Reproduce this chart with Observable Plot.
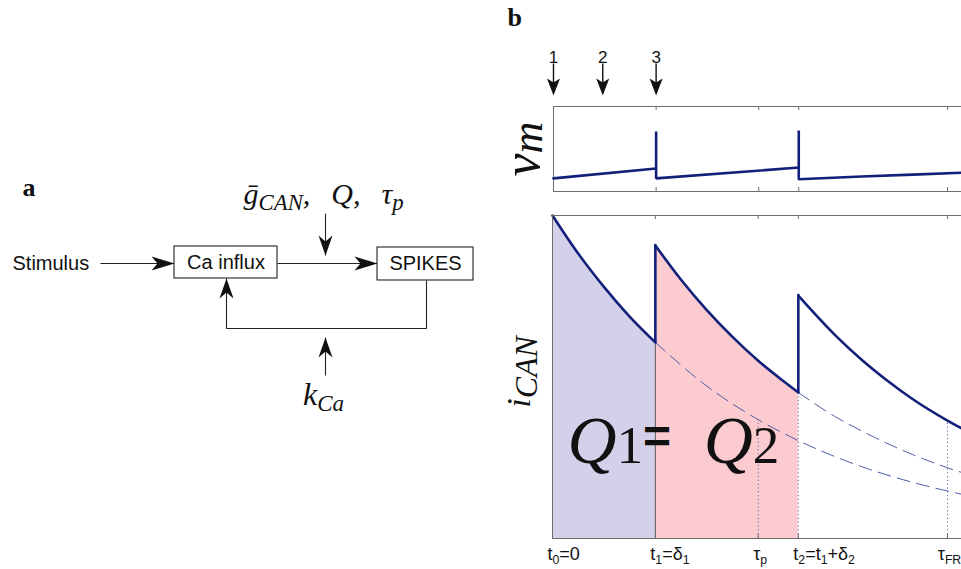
<!DOCTYPE html>
<html><head><meta charset="utf-8">
<script src="https://cdn.jsdelivr.net/npm/d3@7"></script>
<script src="https://cdn.jsdelivr.net/npm/@observablehq/plot@0.6"></script>
<style>
html,body{margin:0;padding:0;background:#fff;overflow:hidden;width:961px;height:569px;}
#fig{position:relative;width:961px;height:569px;overflow:hidden;background:#fff;}
#fig > div{position:absolute;}
#fig svg{max-width:none !important;display:block;}
#pa{left:0;top:170px;width:490px;height:250px;} #pvm{left:500px;top:0;width:484px;height:200px;} #pi{left:500px;top:200px;width:484px;height:369px;}
</style></head><body>
<div id="fig"><div id="pa"></div><div id="pvm"></div><div id="pi"></div></div>
<script>
// ================= DATA =================
// time axis (units: t1 = 1)
const tickTimes = [1, 2, 2.39, 3.84];
const tickLabelTimes = [0, 1, 2, 2.39, 3.84];
const tickLabels = ["t_{0}=0", "t_{1}=δ_{1}", "τ_{p}", "t_{2}=t_{1}+δ_{2}", "τ_{FR}"];
// stimulus pulses shown above the vm trace
const stimulusNumbers = ["1", "2", "3"];
const stimulusTimes = [0, 0.48, 1];
// membrane potential trace (arbitrary units)
const vmTimes  = [0, 1, 1, 1, 2.39, 2.39, 2.39, 3.0, 3.5, 4.0, 4.2];
const vmValues = [0, 0.21, 1.0, 0.0, 0.23, 1.02, -0.02, 0.04, 0.08, 0.12, 0.13];
// i_CAN trace, three decay segments (arbitrary units)
const seg1Times = [0, 0.25, 0.5, 0.75, 1];
const seg1Values = [1.000, 0.882, 0.779, 0.687, 0.607];
const seg2Times = [1, 1.25, 1.5, 1.75, 2, 2.25, 2.39];
const seg2Values = [0.907, 0.801, 0.707, 0.624, 0.550, 0.486, 0.452];
const seg3Times = [2.39, 2.75, 3, 3.25, 3.5, 3.84, 4.2];
const seg3Values = [0.752, 0.629, 0.555, 0.490, 0.432, 0.365, 0.304];
// dashed continuations of the decays
const dashATimes = [1, 1.5, 2, 2.39, 2.75, 3, 3.5, 3.84, 4.2];
const dashAValues = [0.607, 0.472, 0.368, 0.303, 0.253, 0.223, 0.174, 0.147, 0.122];
const dashBTimes = [2.39, 2.75, 3, 3.5, 3.84, 4.2];
const dashBValues = [0.452, 0.377, 0.334, 0.260, 0.219, 0.183];
// vertical markers
const solidMarkTimes = [1];
const solidMarkValues = [0.607];
const dottedMarkTimes = [2, 2.39, 3.84];
const dottedMarkValues = [0.368, 0.452, 0.365];
// Q annotation
const qTexts = ["Q_{1}", "=", "Q_{2}"];
const qTimes = [0.146, 0.88, 1.47];
const qLevel = 0.235;
// block diagram (panel a), diagram units
const boxNames = ["Ca influx", "SPIKES"];
const boxX1 = [174, 377], boxX2 = [277, 473], boxY1 = [76, 77], boxY2 = [108, 110];
const shaftX1 = [100, 277, 325, 325], shaftY1 = [93, 93, 43, 205];
const shaftX2 = [174, 377, 325, 325], shaftY2 = [93, 93, 85, 167];
const headX = [174, 377, 325, 226, 325], headY = [93, 93, 85, 108, 167];
const headDir = ["right", "right", "down", "up", "up"];
const loopX = [426, 426, 226, 226], loopY = [110, 158, 158, 108];

// ================= helpers =================
const zip = (ts, vs, k) => ts.map((t, i) => ({t, v: vs[i], k}));
const seg1 = zip(seg1Times, seg1Values, 1), seg2 = zip(seg2Times, seg2Values, 2), seg3 = zip(seg3Times, seg3Values, 3);
const mainLine = [...seg1, ...seg2, ...seg3];
const jumps = [{t: seg2Times[0], lo: seg1Values[seg1Values.length - 1], hi: seg2Values[0]},
               {t: seg3Times[0], lo: seg2Values[seg2Values.length - 1], hi: seg3Values[0]}];
const NS = "http://www.w3.org/2000/svg";
function rich(svg, label, base, {scale = 0.7, shift = 0.22, subStyle = null} = {}) {
  const found = [];
  svg.querySelectorAll(`[aria-description="${label}"], [aria-label="${label}"]`).forEach(n => {
    if (n.tagName.toLowerCase() === "text") found.push(n);
    else n.querySelectorAll("text").forEach(t => found.push(t));
  });
  found.forEach(el => {
    const src = el.textContent;
    while (el.firstChild) el.removeChild(el.firstChild);
    const re = /_\{([^}]*)\}/g;
    let last = 0, m, low = false;
    const add = (s, sub) => {
      if (!s) return;
      const ts = document.createElementNS(NS, "tspan");
      ts.textContent = s;
      if (sub) {
        ts.setAttribute("font-size", base * scale);
        if (subStyle) ts.setAttribute("font-style", subStyle);
        if (!low) { ts.setAttribute("dy", base * shift); low = true; }
      } else if (low) { ts.setAttribute("dy", -base * shift); low = false; }
      el.appendChild(ts);
    };
    while ((m = re.exec(src))) { add(src.slice(last, m.index), false); add(m[1], true); last = re.lastIndex; }
    add(src.slice(last), false);
  });
}
function stealth(dir, L, W, N, shaft = 0, sw = 1.3) {
  const rot = {down: (x, y) => [x, y], up: (x, y) => [x, -y], right: (x, y) => [y, x], left: (x, y) => [-y, x]}[dir];
  const head = [[0, 0], [-W / 2, -L], [0, -L + N], [W / 2, -L]];
  const body = [[-sw / 2, -shaft], [sw / 2, -shaft], [sw / 2, -L + N + 1], [-sw / 2, -L + N + 1]];
  const poly = (ctx, pts) => { pts.map(([x, y]) => rot(x, y)).forEach(([x, y], i) => i ? ctx.lineTo(x, y) : ctx.moveTo(x, y)); ctx.closePath(); };
  return {draw(ctx) { poly(ctx, head); if (shaft) poly(ctx, body); }};
}
const serif = "'Liberation Serif','DejaVu Serif',serif";
const sans = "'Liberation Sans',Arial,sans-serif";
const frameColor = "#6e6e6e";
const navy = "#13207a";
const baseStyle = {background: "transparent", overflow: "visible", maxWidth: "none"};

// ================= PANEL A =================
const boxes = boxNames.map((name, i) => ({name, x1: boxX1[i], x2: boxX2[i], y1: boxY1[i], y2: boxY2[i]}));
const shafts = shaftX1.map((x1, i) => ({x1, y1: shaftY1[i], x2: shaftX2[i], y2: shaftY2[i]}));
const heads = headX.map((x, i) => ({x, y: headY[i], dir: headDir[i]}));
const loop = loopX.map((x, i) => ({x, y: loopY[i]}));
const aPlot = Plot.plot({
  width: 490, height: 250, margin: 0,
  style: baseStyle,
  x: {domain: [0, 490], range: [0, 490], axis: null},
  y: {domain: [0, 250], range: [0, 250], axis: null},
  marks: [
    Plot.link(shafts, {x1: "x1", y1: "y1", x2: "x2", y2: "y2", stroke: "#222", strokeWidth: 1.1}),
    Plot.line(loop, {x: "x", y: "y", stroke: "#222", strokeWidth: 1.1, strokeLinejoin: "miter", strokeLinecap: "butt"}),
    Plot.rect(boxes, {x1: "x1", x2: "x2", y1: "y1", y2: "y2", fill: "white", stroke: "#222", strokeWidth: 1.1}),
    Plot.text(boxes, {x: d => (d.x1 + d.x2) / 2, y: d => (d.y1 + d.y2) / 2, text: "name", fontSize: 20, fontFamily: sans, fill: "#111"}),
    ...["right", "down", "up"].map(dir => Plot.dot(heads.filter(h => h.dir === dir), {x: "x", y: "y",
      symbol: dir === "right" ? stealth("right", 23, 14, 6) : stealth(dir, 20, 14, 6), fill: "#111", stroke: "none"})),
    Plot.text(["Stimulus"], {x: 12, y: 93, text: d => d, textAnchor: "start", fontSize: 20, fontFamily: sans, fill: "#111"}),
    Plot.text(["ḡ_{CAN},\u2002\u2009Q,\u2002\u2009τ_{p}"], {x: 243, y: 33, text: d => d, textAnchor: "start", lineAnchor: "bottom",
      fontSize: 30, fontFamily: serif, fontStyle: "italic", fill: "#111", ariaDescription: "math-g"}),
    Plot.text(["k_{Ca}"], {x: 323, y: 234, text: d => d, textAnchor: "middle", lineAnchor: "bottom",
      fontSize: 32, fontFamily: serif, fontStyle: "italic", fill: "#111", ariaDescription: "math-k"}),
    Plot.text(["a"], {x: 22, y: 25, text: d => d, textAnchor: "start", lineAnchor: "bottom",
      fontSize: 26, fontFamily: serif, fontWeight: "bold", fill: "#111"})
  ]
});
rich(aPlot, "math-g", 30, {scale: 0.76, shift: 0.2});
rich(aPlot, "math-k", 32, {scale: 0.72, shift: 0.2});
document.getElementById("pa").appendChild(aPlot);

// ================= PANEL B: vm =================
const W = 484;
const vm = zip(vmTimes, vmValues);
const stim = stimulusTimes.map((t, i) => ({t, n: stimulusNumbers[i]}));
const vmFrameH = 85;
const vmPlot = Plot.plot({
  width: W, height: 200, marginLeft: 53, marginRight: 0, marginTop: 106, marginBottom: 9,
  style: baseStyle,
  x: {domain: [0, 4.2], axis: null},
  y: {domain: [-0.28, 1.53], axis: null},
  marks: [
    Plot.frame({stroke: frameColor}),
    Plot.ruleX(tickTimes, {x: d => d, insetBottom: vmFrameH - 4, stroke: frameColor}),
    Plot.ruleX(tickTimes, {x: d => d, insetTop: vmFrameH - 4, stroke: frameColor}),
    Plot.line(vm, {x: "t", y: "v", stroke: navy, strokeWidth: 2.6, strokeLinejoin: "miter"}),
    Plot.dot(stim, {x: "t", frameAnchor: "top", dy: -11, symbol: stealth("down", 17, 13, 4, 32, 1.4), fill: "#111", stroke: "none"}),
    Plot.text(stim, {x: "t", text: "n", frameAnchor: "top", dy: -44, lineAnchor: "bottom", fontSize: 17, fontFamily: sans, fill: "#111"}),
    Plot.text(["b"], {frameAnchor: "top-left", text: d => d, dx: -46, dy: -81, textAnchor: "start", lineAnchor: "bottom",
      fontSize: 26, fontFamily: serif, fontWeight: "bold", fill: "#111"}),
    Plot.text(["v_{m}"], {frameAnchor: "left", text: d => d, dx: -15, dy: 0, rotate: -90, textAnchor: "middle", lineAnchor: "bottom",
      fontSize: 52, fontFamily: serif, fontStyle: "italic", fill: "#111", ariaDescription: "lab-vm"})
  ]
});
rich(vmPlot, "lab-vm", 52, {scale: 0.85, shift: 0.06});
document.getElementById("pvm").appendChild(vmPlot);

// ================= PANEL B: iCAN =================
const iFrameH = 323;
const tLab = tickLabelTimes.map((t, i) => ({t, s: tickLabels[i]}));
const qLab = qTexts.map((s, i) => ({t: qTimes[i], v: qLevel, s}));
const iPlot = Plot.plot({
  width: W, height: 369, marginLeft: 52, marginRight: 0, marginTop: 15, marginBottom: 31,
  style: baseStyle,
  x: {domain: [0, 4.2], axis: null},
  y: {domain: [0, 1], axis: null},
  marks: [
    Plot.areaY(seg1, {x: "t", y: "v", fill: "#d2d1e9", curve: "monotone-x"}),
    Plot.areaY(seg2, {x: "t", y: "v", fill: "#fbcbd0", curve: "monotone-x"}),
    Plot.ruleX(zip(solidMarkTimes, solidMarkValues), {x: "t", y1: 0, y2: "v", stroke: "#555", strokeWidth: 1}),
    Plot.ruleX(zip(dottedMarkTimes, dottedMarkValues), {x: "t", y1: 0, y2: "v", stroke: "#5d669e", strokeWidth: 1, strokeDasharray: "1.2,2.6"}),
    Plot.line(zip(dashATimes, dashAValues), {x: "t", y: "v", stroke: "#4f5ca6", strokeWidth: 1, strokeDasharray: "13,7", curve: "monotone-x"}),
    Plot.line(zip(dashBTimes, dashBValues), {x: "t", y: "v", stroke: "#4f5ca6", strokeWidth: 1, strokeDasharray: "13,7", curve: "monotone-x"}),
    Plot.line(mainLine, {x: "t", y: "v", z: "k", stroke: navy, strokeWidth: 2.6, curve: "monotone-x"}),
    Plot.ruleX(jumps, {x: "t", y1: "lo", y2: "hi", stroke: navy, strokeWidth: 2.6, strokeLinecap: "round"}),
    Plot.frame({stroke: frameColor}),
    Plot.ruleX(tickTimes, {x: d => d, insetBottom: iFrameH - 4, stroke: frameColor}),
    Plot.ruleX(tickTimes, {x: d => d, insetTop: iFrameH - 4, stroke: frameColor}),
    Plot.text(tLab.filter(d => d.s[0] !== "τ"), {x: "t", text: "s", frameAnchor: "bottom", dx: -5, dy: 21, textAnchor: "start", lineAnchor: "bottom",
      fontSize: 18, fontFamily: sans, fill: "#111", ariaDescription: "tick-t"}),
    Plot.text(tLab.filter(d => d.s[0] === "τ"), {x: "t", text: "s", frameAnchor: "bottom", dx: 2, dy: 21, textAnchor: "middle", lineAnchor: "bottom",
      fontSize: 18, fontFamily: sans, fill: "#111", ariaDescription: "tick-tau"}),
    Plot.text(qLab.filter(d => d.s !== "="), {x: "t", y: "v", text: "s", textAnchor: "start", lineAnchor: "bottom",
      fontSize: 68, fontFamily: serif, fontStyle: "italic", fill: "#111", ariaDescription: "q-lab"}),
    Plot.text(qLab.filter(d => d.s === "="), {x: "t", y: "v", text: "s", textAnchor: "start", lineAnchor: "bottom", dy: -10,
      fontSize: 48, fontFamily: sans, fontWeight: "bold", fill: "#111"}),
    Plot.text(["i_{CAN}"], {frameAnchor: "left", text: d => d, dx: -23, dy: -5, rotate: -90, textAnchor: "middle", lineAnchor: "bottom",
      fontSize: 34, fontFamily: serif, fontStyle: "italic", fill: "#111", ariaDescription: "lab-i"})
  ]
});
rich(iPlot, "tick-t", 18, {scale: 0.68, shift: 0.25});
rich(iPlot, "tick-tau", 18, {scale: 0.68, shift: 0.25});
rich(iPlot, "q-lab", 68, {scale: 0.78, shift: 0.0, subStyle: "normal"});
rich(iPlot, "lab-i", 34, {scale: 0.94, shift: 0.22});
document.getElementById("pi").appendChild(iPlot);
</script>
</body></html>
